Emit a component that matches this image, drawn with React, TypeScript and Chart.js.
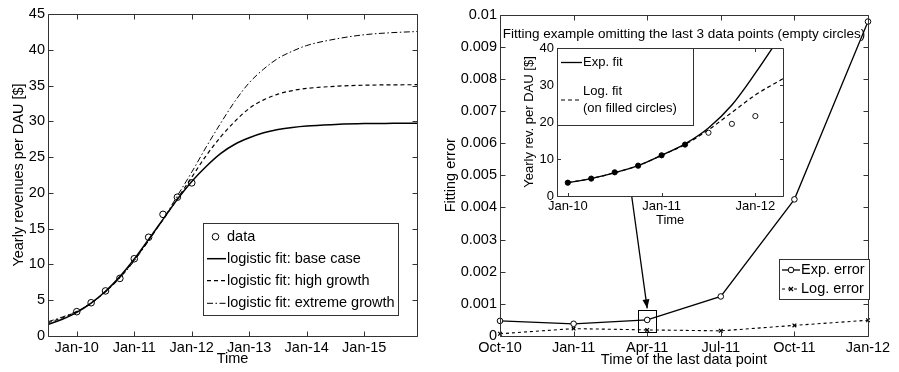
import { useEffect, useRef } from 'react';
import { Chart, registerables } from 'chart.js';

Chart.register(...registerables);

// ---------- Left panel: yearly revenues per DAU ----------
const DATA_TIMES = [2010, 2010.25, 2010.5, 2010.75, 2011, 2011.25, 2011.5, 2011.75, 2012];
const DATA_VALUES = [3.4, 4.65, 6.3, 8.05, 10.8, 13.8, 17.0, 19.4, 21.4];

const FIT_TIMES = [2009.5, 2009.75, 2010, 2010.25, 2010.5, 2010.75, 2011, 2011.25, 2011.5, 2011.75, 2012, 2012.25, 2012.5, 2012.75, 2013, 2013.25, 2013.5, 2013.75, 2014, 2014.5, 2015, 2015.5, 2015.917];
const FIT_BASE = [1.6, 2.35, 3.3, 4.6, 6.25, 8.3, 10.75, 13.5, 16.3, 19.1, 21.6, 23.7, 25.5, 26.8, 27.7, 28.4, 28.85, 29.15, 29.35, 29.55, 29.68, 29.72, 29.74];
const FIT_HIGH = [1.85, 2.55, 3.4, 4.6, 6.2, 8.2, 10.65, 13.4, 16.25, 19.2, 22.2, 25.2, 27.8, 30.0, 31.8, 33.0, 33.8, 34.3, 34.6, 34.9, 35.05, 35.1, 35.12];
const FIT_EXTREME = [2.0, 2.65, 3.45, 4.6, 6.15, 8.1, 10.5, 13.3, 16.3, 19.6, 22.9, 26.4, 29.7, 32.8, 35.4, 37.3, 38.8, 39.8, 40.6, 41.5, 42.1, 42.4, 42.55];

const LEFT_TICK_YEARS = [2010, 2011, 2012, 2013, 2014, 2015];
const LEFT_TICK_LABELS = ['Jan-10', 'Jan-11', 'Jan-12', 'Jan-13', 'Jan-14', 'Jan-15'];
const LEFT_LEGEND = ['data', 'logistic fit: base case', 'logistic fit: high growth', 'logistic fit: extreme growth'];

// ---------- Right panel: fitting error ----------
const ERR_LABELS = ['Oct-10', 'Jan-11', 'Apr-11', 'Jul-11', 'Oct-11', 'Jan-12'];
const EXP_ERROR = [0.00047, 0.00038, 0.0005, 0.00123, 0.00425, 0.00978];
const LOG_ERROR = [0.00007, 0.00023, 0.00019, 0.00016, 0.00033, 0.00049];
const ERR_TICKS = [0, 0.001, 0.002, 0.003, 0.004, 0.005, 0.006, 0.007, 0.008, 0.009, 0.01];
const ERR_TICK_LABELS = ['0', '0.001', '0.002', '0.003', '0.004', '0.005', '0.006', '0.007', '0.008', '0.009', '0.01'];
const RIGHT_LEGEND = ['Exp. error', 'Log. error'];

// ---------- Inset: fitting example ----------
const INSET_FILLED_TIMES = [2010, 2010.25, 2010.5, 2010.75, 2011, 2011.25];
const INSET_FILLED_VALUES = [3.6, 4.7, 6.4, 8.2, 11.0, 13.9];
const INSET_EMPTY_TIMES = [2011.5, 2011.75, 2012];
const INSET_EMPTY_VALUES = [17.1, 19.5, 21.6];
const EXP_FIT_TIMES = [2010, 2010.25, 2010.5, 2010.75, 2011, 2011.25, 2011.5, 2011.75, 2012, 2012.3];
const EXP_FIT_VALUES = [3.6, 4.7, 6.3, 8.2, 11.0, 14.1, 18.4, 24.6, 33.2, 44.5];
const LOG_FIT_TIMES = [2010, 2010.25, 2010.5, 2010.75, 2011, 2011.25, 2011.5, 2011.75, 2012, 2012.3];
const LOG_FIT_VALUES = [3.6, 4.7, 6.3, 8.2, 11.0, 13.9, 17.9, 22.6, 27.3, 31.8];
const INSET_TICK_YEARS = [2010, 2011, 2012];
const INSET_TICK_LABELS = ['Jan-10', 'Jan-11', 'Jan-12'];
const INSET_TITLE = 'Fitting example omitting the last 3 data points (empty circles)';
const INSET_LEGEND = ['Exp. fit', 'Log. fit', '(on filled circles)'];

// annotation (in the right panel's data units): arrow from inset to the highlighted fit
const ARROW_FROM = { x: 1.79, y: 0.00434 };
const ARROW_TO = { x: 2.0, y: 0.00086 };
const HIGHLIGHT_BOX = { x0: 1.88, x1: 2.12, y0: 0.00012, y1: 0.0008 };

// ---------- styling ----------
const W = 899;
const H = 372;
const FONT = '"Liberation Sans", Arial, Helvetica, sans-serif';
const INK = '#000000';
const AXIS = '#333333';
const MAIN_SIZE = 14.5;
const INSET_SIZE = 13;
const INSET_TITLE_SIZE = 13.5;

const pts = (xs: number[], ys: number[]) => xs.map((x, i) => ({ x, y: ys[i] }));

function frameTicks(tickLen: number) {
  return {
    id: 'frameTicks',
    afterDatasetsDraw(chart: any) {
      const { ctx, chartArea: a } = chart;
      const xs = chart.scales.x;
      const ys = chart.scales.y;
      const L = Math.round(a.left) + 0.5;
      const R = Math.round(a.right) + 0.5;
      const T = Math.round(a.top) + 0.5;
      const B = Math.round(a.bottom) + 0.5;
      ctx.save();
      ctx.strokeStyle = AXIS;
      ctx.lineWidth = 1;
      ctx.setLineDash([]);
      ctx.beginPath();
      xs.ticks.forEach((_t: any, i: number) => {
        const px = Math.round(xs.getPixelForTick(i)) + 0.5;
        ctx.moveTo(px, B);
        ctx.lineTo(px, B - tickLen);
        ctx.moveTo(px, T);
        ctx.lineTo(px, T + tickLen);
      });
      ys.ticks.forEach((_t: any, i: number) => {
        const py = Math.round(ys.getPixelForTick(i)) + 0.5;
        ctx.moveTo(L, py);
        ctx.lineTo(L + tickLen, py);
        ctx.moveTo(R, py);
        ctx.lineTo(R - tickLen, py);
      });
      ctx.rect(L, T, R - L, B - T);
      ctx.stroke();
      ctx.restore();
    },
  };
}

function legendBox(ctx: CanvasRenderingContext2D, x0: number, y0: number, x1: number, y1: number) {
  ctx.save();
  ctx.fillStyle = '#ffffff';
  ctx.fillRect(x0, y0, x1 - x0, y1 - y0);
  ctx.strokeStyle = AXIS;
  ctx.lineWidth = 1;
  ctx.setLineDash([]);
  ctx.strokeRect(Math.round(x0) + 0.5, Math.round(y0) + 0.5, Math.round(x1 - x0), Math.round(y1 - y0));
  ctx.restore();
}

function sampleLine(ctx: CanvasRenderingContext2D, x0: number, x1: number, y: number, dash: number[], width: number) {
  ctx.save();
  ctx.strokeStyle = INK;
  ctx.lineWidth = width;
  ctx.setLineDash(dash);
  ctx.beginPath();
  ctx.moveTo(x0, y);
  ctx.lineTo(x1, y);
  ctx.stroke();
  ctx.restore();
}

function legendText(ctx: CanvasRenderingContext2D, text: string, x: number, y: number, size: number) {
  ctx.save();
  ctx.fillStyle = INK;
  ctx.font = `${size}px ${FONT}`;
  ctx.textAlign = 'left';
  ctx.textBaseline = 'middle';
  ctx.fillText(text, x, y);
  ctx.restore();
}

const DASH = [4, 3];
const DASH_DOT = [6, 2.5, 1.5, 2.5];

function makeLeft(canvas: HTMLCanvasElement) {
  const legend = {
    id: 'leftLegend',
    afterDraw(chart: any) {
      const ctx = chart.ctx as CanvasRenderingContext2D;
      legendBox(ctx, 203, 223, 398, 315);
      const rows = [236.7, 258.7, 280.7, 303.3];
      ctx.save();
      ctx.strokeStyle = INK;
      ctx.lineWidth = 1;
      ctx.beginPath();
      ctx.arc(215.5, rows[0], 3.3, 0, Math.PI * 2);
      ctx.stroke();
      ctx.restore();
      sampleLine(ctx, 207, 226, rows[1], [], 1.5);
      sampleLine(ctx, 207, 226, rows[2], DASH, 1.2);
      sampleLine(ctx, 207, 226, rows[3], DASH_DOT, 1);
      LEFT_LEGEND.forEach((t, i) => legendText(ctx, t, 227, rows[i], MAIN_SIZE));
    },
  };

  return new Chart(canvas, {
    type: 'line',
    data: {
      datasets: [
        {
          label: LEFT_LEGEND[3],
          data: pts(FIT_TIMES, FIT_EXTREME),
          borderColor: INK,
          borderWidth: 1,
          borderDash: DASH_DOT,
          pointRadius: 0,
          cubicInterpolationMode: 'monotone',
          fill: false,
        },
        {
          label: LEFT_LEGEND[2],
          data: pts(FIT_TIMES, FIT_HIGH),
          borderColor: INK,
          borderWidth: 1.2,
          borderDash: DASH,
          pointRadius: 0,
          cubicInterpolationMode: 'monotone',
          fill: false,
        },
        {
          label: LEFT_LEGEND[1],
          data: pts(FIT_TIMES, FIT_BASE),
          borderColor: INK,
          borderWidth: 1.5,
          pointRadius: 0,
          cubicInterpolationMode: 'monotone',
          fill: false,
        },
        {
          label: LEFT_LEGEND[0],
          data: pts(DATA_TIMES, DATA_VALUES),
          showLine: false,
          borderColor: INK,
          pointRadius: 3.3,
          pointBorderWidth: 1,
          pointBorderColor: INK,
          pointBackgroundColor: 'rgba(255,255,255,0)',
        },
      ],
    } as any,
    options: {
      responsive: false,
      animation: false,
      devicePixelRatio: 1,
      events: [],
      layout: { padding: { left: 0, top: 14, right: W - 417, bottom: 0 } },
      plugins: { legend: { display: false }, tooltip: { enabled: false } },
      scales: {
        x: {
          type: 'linear',
          min: 2009.5,
          max: 2015.917,
          afterBuildTicks: (s: any) => {
            s.ticks = LEFT_TICK_YEARS.map((v) => ({ value: v }));
          },
          afterFit: (s: any) => {
            s.height = 36;
          },
          ticks: {
            autoSkip: false,
            maxRotation: 0,
            padding: 3,
            color: INK,
            font: { size: MAIN_SIZE },
            callback: (v: any) => LEFT_TICK_LABELS[LEFT_TICK_YEARS.indexOf(Number(v))] ?? '',
          },
          grid: { display: false, drawTicks: false },
          border: { display: false },
          title: { display: true, text: 'Time', color: INK, font: { size: MAIN_SIZE }, padding: { top: 0, bottom: 4 } },
        },
        y: {
          type: 'linear',
          min: 0,
          max: 45,
          afterFit: (s: any) => {
            s.width = 48;
          },
          ticks: { stepSize: 5, padding: 3, color: INK, font: { size: MAIN_SIZE } },
          grid: { display: false, drawTicks: false },
          border: { display: false },
          title: {
            display: true,
            text: 'Yearly revenues per DAU [$]',
            color: INK,
            font: { size: MAIN_SIZE },
            padding: { top: 10, bottom: 0 },
          },
        },
      },
    } as any,
    plugins: [frameTicks(5), legend],
  });
}

function makeRight(canvas: HTMLCanvasElement) {
  const extras = {
    id: 'rightExtras',
    afterDraw(chart: any) {
      const ctx = chart.ctx as CanvasRenderingContext2D;
      const xs = chart.scales.x;
      const ys = chart.scales.y;
      const bx0 = xs.getPixelForValue(HIGHLIGHT_BOX.x0);
      const bx1 = xs.getPixelForValue(HIGHLIGHT_BOX.x1);
      const by0 = ys.getPixelForValue(HIGHLIGHT_BOX.y1);
      const by1 = ys.getPixelForValue(HIGHLIGHT_BOX.y0);
      ctx.save();
      ctx.strokeStyle = INK;
      ctx.lineWidth = 1;
      ctx.setLineDash([]);
      ctx.strokeRect(Math.round(bx0) + 0.5, Math.round(by0) + 0.5, Math.round(bx1 - bx0), Math.round(by1 - by0));
      const ax0 = xs.getPixelForValue(ARROW_FROM.x);
      const ay0 = ys.getPixelForValue(ARROW_FROM.y);
      const ax1 = xs.getPixelForValue(ARROW_TO.x);
      const ay1 = ys.getPixelForValue(ARROW_TO.y);
      ctx.lineWidth = 1.3;
      ctx.beginPath();
      ctx.moveTo(ax0, ay0);
      ctx.lineTo(ax1, ay1);
      ctx.stroke();
      const ang = Math.atan2(ay1 - ay0, ax1 - ax0);
      const hl = 9;
      const hw = 3.5;
      ctx.fillStyle = INK;
      ctx.beginPath();
      ctx.moveTo(ax1, ay1);
      ctx.lineTo(ax1 - hl * Math.cos(ang) + hw * Math.sin(ang), ay1 - hl * Math.sin(ang) - hw * Math.cos(ang));
      ctx.lineTo(ax1 - hl * Math.cos(ang) - hw * Math.sin(ang), ay1 - hl * Math.sin(ang) + hw * Math.cos(ang));
      ctx.closePath();
      ctx.fill();
      ctx.restore();

      legendBox(ctx, 779, 259, 869, 299);
      const rows = [270, 289];
      sampleLine(ctx, 782, 800, rows[0], [], 1.3);
      ctx.save();
      ctx.strokeStyle = INK;
      ctx.fillStyle = '#fff';
      ctx.lineWidth = 1;
      ctx.beginPath();
      ctx.arc(791, rows[0], 2.8, 0, Math.PI * 2);
      ctx.fill();
      ctx.stroke();
      ctx.restore();
      sampleLine(ctx, 782, 800, rows[1], [3, 3], 1.1);
      ctx.save();
      ctx.strokeStyle = INK;
      ctx.lineWidth = 1.2;
      ctx.beginPath();
      ctx.moveTo(789, rows[1] - 2);
      ctx.lineTo(793, rows[1] + 2);
      ctx.moveTo(789, rows[1] + 2);
      ctx.lineTo(793, rows[1] - 2);
      ctx.stroke();
      ctx.restore();
      RIGHT_LEGEND.forEach((t, i) => legendText(ctx, t, 801, rows[i], MAIN_SIZE));
    },
  };

  return new Chart(canvas, {
    type: 'line',
    data: {
      labels: ERR_LABELS,
      datasets: [
        {
          label: RIGHT_LEGEND[0],
          data: EXP_ERROR,
          borderColor: INK,
          borderWidth: 1.3,
          pointStyle: 'circle',
          pointRadius: 2.8,
          pointBorderWidth: 1,
          pointBorderColor: INK,
          pointBackgroundColor: '#ffffff',
          tension: 0,
          clip: false,
        },
        {
          label: RIGHT_LEGEND[1],
          data: LOG_ERROR,
          borderColor: INK,
          borderWidth: 1.1,
          borderDash: [3, 3],
          pointStyle: 'crossRot',
          pointRadius: 2.6,
          pointBorderWidth: 1.2,
          pointBorderColor: INK,
          tension: 0,
          clip: false,
        },
      ],
    } as any,
    options: {
      responsive: false,
      animation: false,
      devicePixelRatio: 1,
      events: [],
      layout: { padding: { left: 440, top: 14.5, right: W - 868, bottom: 0 } },
      plugins: { legend: { display: false }, tooltip: { enabled: false } },
      scales: {
        x: {
          type: 'category',
          offset: false,
          afterFit: (s: any) => {
            s.height = 36;
          },
          ticks: { autoSkip: false, maxRotation: 0, padding: 3, color: INK, font: { size: MAIN_SIZE } },
          grid: { display: false, drawTicks: false, offset: false },
          border: { display: false },
          title: {
            display: true,
            text: 'Time of the last data point',
            color: INK,
            font: { size: MAIN_SIZE },
            padding: { top: 0, bottom: 3.5 },
          },
        },
        y: {
          type: 'linear',
          min: 0,
          max: 0.01,
          afterBuildTicks: (s: any) => {
            s.ticks = ERR_TICKS.map((v) => ({ value: v }));
          },
          afterFit: (s: any) => {
            s.width = 60;
          },
          ticks: {
            padding: 3,
            color: INK,
            font: { size: MAIN_SIZE },
            callback: (_v: any, i: number) => ERR_TICK_LABELS[i],
          },
          grid: { display: false, drawTicks: false },
          border: { display: false },
          title: { display: true, text: 'Fitting error', color: INK, font: { size: MAIN_SIZE }, padding: { top: 2.5, bottom: 0 } },
        },
      },
    } as any,
    plugins: [frameTicks(5), extras],
  });
}

function makeInset(canvas: HTMLCanvasElement) {
  const extras = {
    id: 'insetExtras',
    beforeDatasetsDraw(chart: any) {
      const { ctx, chartArea: a } = chart;
      ctx.save();
      ctx.fillStyle = '#ffffff';
      ctx.fillRect(a.left, a.top, a.right - a.left, a.bottom - a.top);
      ctx.restore();
    },
    afterDraw(chart: any) {
      const ctx = chart.ctx as CanvasRenderingContext2D;
      ctx.save();
      ctx.fillStyle = INK;
      ctx.font = `${INSET_TITLE_SIZE}px ${FONT}`;
      ctx.textAlign = 'center';
      ctx.textBaseline = 'middle';
      ctx.fillText(INSET_TITLE, 684, 34);
      ctx.restore();
      legendBox(ctx, 557, 48, 693, 125);
      sampleLine(ctx, 561, 582, 62.5, [], 1.3);
      sampleLine(ctx, 561, 582, 100, DASH, 1.1);
      legendText(ctx, INSET_LEGEND[0], 583, 62.5, INSET_SIZE);
      legendText(ctx, INSET_LEGEND[1], 583, 91.5, INSET_SIZE);
      legendText(ctx, INSET_LEGEND[2], 583, 108.5, INSET_SIZE);
    },
  };

  return new Chart(canvas, {
    type: 'line',
    data: {
      datasets: [
        {
          label: INSET_LEGEND[0],
          data: pts(EXP_FIT_TIMES, EXP_FIT_VALUES),
          borderColor: INK,
          borderWidth: 1.4,
          pointRadius: 0,
          cubicInterpolationMode: 'monotone',
          fill: false,
        },
        {
          label: INSET_LEGEND[1],
          data: pts(LOG_FIT_TIMES, LOG_FIT_VALUES),
          borderColor: INK,
          borderWidth: 1.2,
          borderDash: DASH,
          pointRadius: 0,
          cubicInterpolationMode: 'monotone',
          fill: false,
        },
        {
          label: 'filled',
          data: pts(INSET_FILLED_TIMES, INSET_FILLED_VALUES),
          showLine: false,
          pointRadius: 2.6,
          pointBorderWidth: 1,
          pointBorderColor: INK,
          pointBackgroundColor: INK,
        },
        {
          label: 'empty',
          data: pts(INSET_EMPTY_TIMES, INSET_EMPTY_VALUES),
          showLine: false,
          pointRadius: 2.6,
          pointBorderWidth: 0.9,
          pointBorderColor: INK,
          pointBackgroundColor: '#ffffff',
        },
      ],
    } as any,
    options: {
      responsive: false,
      animation: false,
      devicePixelRatio: 1,
      events: [],
      layout: { padding: { left: 515, top: 48, right: W - 783.3, bottom: 140 } },
      plugins: { legend: { display: false }, tooltip: { enabled: false } },
      scales: {
        x: {
          type: 'linear',
          min: 2009.885,
          max: 2012.298,
          afterBuildTicks: (s: any) => {
            s.ticks = INSET_TICK_YEARS.map((v) => ({ value: v }));
          },
          afterFit: (s: any) => {
            s.height = 36;
          },
          ticks: {
            autoSkip: false,
            maxRotation: 0,
            padding: 3,
            color: INK,
            font: { size: INSET_SIZE },
            callback: (v: any) => INSET_TICK_LABELS[INSET_TICK_YEARS.indexOf(Number(v))] ?? '',
          },
          grid: { display: false, drawTicks: false },
          border: { display: false },
          title: { display: true, text: 'Time', color: INK, font: { size: INSET_SIZE }, padding: { top: 0, bottom: 4 } },
        },
        y: {
          type: 'linear',
          min: 0,
          max: 40,
          afterFit: (s: any) => {
            s.width = 42;
          },
          ticks: { stepSize: 10, padding: 3, color: INK, font: { size: INSET_SIZE } },
          grid: { display: false, drawTicks: false },
          border: { display: false },
          title: {
            display: true,
            text: 'Yearly rev. per DAU [$]',
            color: INK,
            font: { size: INSET_SIZE },
            padding: { top: 7, bottom: 0 },
          },
        },
      },
    } as any,
    plugins: [frameTicks(3.5), extras],
  });
}

export default function App() {
  const leftRef = useRef<HTMLCanvasElement>(null);
  const rightRef = useRef<HTMLCanvasElement>(null);
  const insetRef = useRef<HTMLCanvasElement>(null);

  useEffect(() => {
    document.body.style.margin = '0';
    Chart.defaults.font.family = FONT;
    Chart.defaults.color = INK;
    const charts = [makeLeft(leftRef.current!), makeRight(rightRef.current!), makeInset(insetRef.current!)];
    return () => charts.forEach((c) => c.destroy());
  }, []);

  const cs = { position: 'absolute' as const, left: 0, top: 0 };
  return (
    <div style={{ position: 'relative', width: W, height: H, background: '#ffffff', overflow: 'hidden' }}>
      <canvas ref={leftRef} width={W} height={H} style={cs} />
      <canvas ref={rightRef} width={W} height={H} style={cs} />
      <canvas ref={insetRef} width={W} height={H} style={cs} />
    </div>
  );
}
